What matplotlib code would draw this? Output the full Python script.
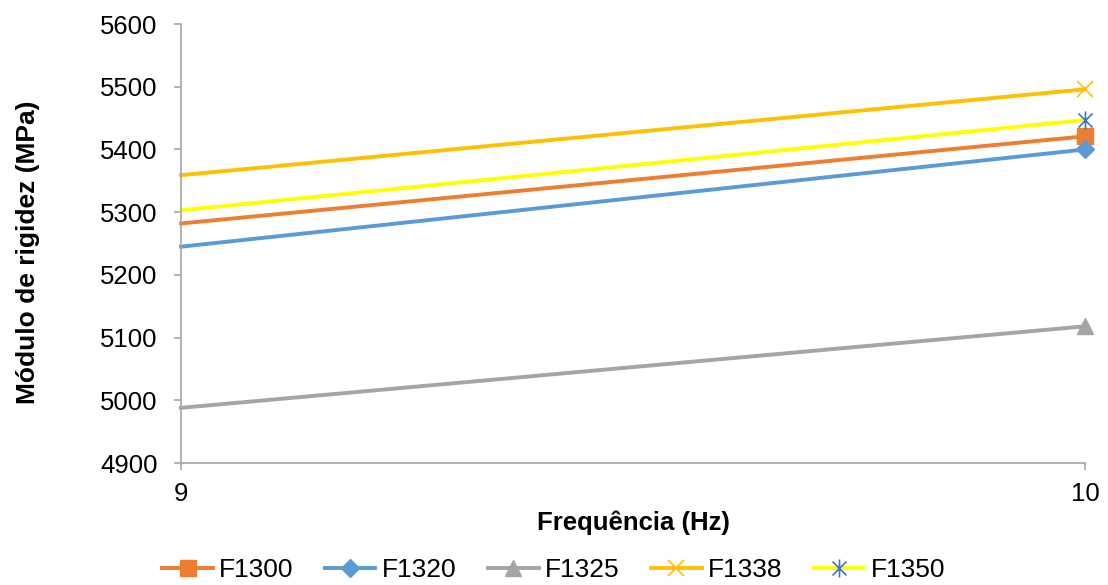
import matplotlib.pyplot as plt
from matplotlib.path import Path

plt.rcParams['font.family'] = ['Liberation Sans', 'DejaVu Sans']

# Frequency (Hz) and stiffness modulus (MPa) for each mixture
freq = [9, 10]
series_names = ['F1300', 'F1320', 'F1325', 'F1338', 'F1350']
f1300 = [5282, 5421]
f1320 = [5245, 5400]
f1325 = [4988, 5118]
f1338 = [5359, 5496]
f1350 = [5303, 5447]

# asterisk marker: an x crossed by a vertical stroke
star = Path([(-1, -1), (1, 1), (-1, 1), (1, -1), (0, -1.3), (0, 1.3)],
            [Path.MOVETO, Path.LINETO, Path.MOVETO, Path.LINETO, Path.MOVETO, Path.LINETO])

styles = [
    dict(color='#ED7D31', marker='s', mfc='#ED7D31', mec='#ED7D31', ms=11),
    dict(color='#5B9BD5', marker='D', mfc='#5B9BD5', mec='#5B9BD5', ms=9),
    dict(color='#A5A5A5', marker='^', mfc='#A5A5A5', mec='#A5A5A5', ms=12),
    dict(color='#FFC000', marker='x', mfc='none', mec='#FFC000', ms=12, mew=1.2),
    dict(color='#FFFF00', marker=star, mfc='none', mec='#4472C4', ms=13, mew=1.2),
]
values = [f1300, f1320, f1325, f1338, f1350]

fig = plt.figure(figsize=(11.08, 5.85), dpi=100)
ax = fig.add_axes([0.1634, 0.2085, 0.8159, 0.7504])

for name, vals, st in zip(series_names, values, styles):
    ax.plot(freq, vals, lw=2.8, markevery=[1], label=name, clip_on=False, **st)

ax.set_xlim(9, 10)
ax.set_ylim(4900, 5600)
ax.set_xticks([9, 10])
ax.set_yticks(range(4900, 5601, 100))

for side in ['top', 'right']:
    ax.spines[side].set_visible(False)
for side in ['left', 'bottom']:
    ax.spines[side].set_color('#A6A6A6')
    ax.spines[side].set_linewidth(1.2)
ax.tick_params(axis='both', colors='#A6A6A6', labelcolor='black', labelsize=18.5,
               length=5, width=1.2)
ax.tick_params(axis='y', pad=12)
ax.tick_params(axis='x', pad=9)

ax.set_xlabel('Frequência (Hz)', fontsize=18.5, fontweight='bold')
ax.set_ylabel('Módulo de rigidez (MPa)', fontsize=19, fontweight='bold')
ax.xaxis.set_label_coords(0.5, -0.109)
ax.yaxis.set_label_coords(-0.156, 0.48)

fig.legend(loc='center', bbox_to_anchor=(0.5, 0.025), ncol=5, frameon=False,
           fontsize=19, handlelength=1.9, columnspacing=1.2, handletextpad=0.25)

fig.savefig('out.png', dpi=100)
